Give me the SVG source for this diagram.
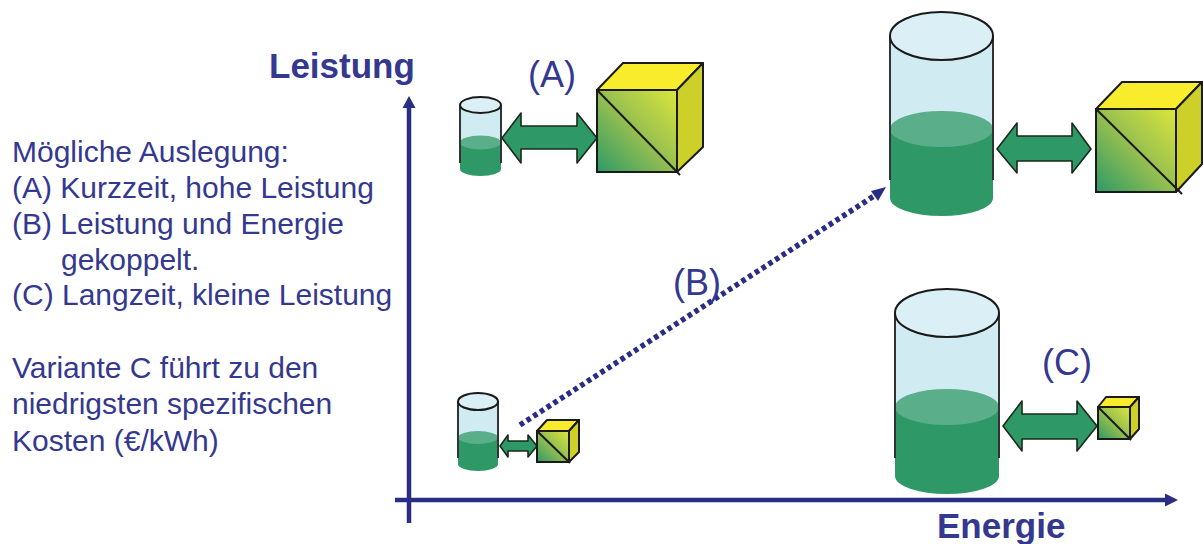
<svg xmlns="http://www.w3.org/2000/svg" width="1203" height="544" viewBox="0 0 1203 544">
<style>
text{font-family:"Liberation Sans",Arial,sans-serif;fill:#34388f}
.t{font-size:30px}
.l{font-size:36px}
.b{font-size:35px;font-weight:bold}
.ax{stroke:#2a2d84;stroke-width:4.500;fill:none}
.hd{fill:#2a2d84}
.g{fill:#d0ecf2}
.w{fill:#2e9966}
.wt{fill:#5aae8a}
.gl{stroke:#333;stroke-width:2;fill:none}
.top{fill:#dbf0f6;stroke:#1a1a1a;stroke-width:2}
.ar{fill:#2e9966;stroke:#1a2a1a;stroke-width:1.600;stroke-linejoin:round}
.cy{fill:#f9ec2d;stroke:#1a1a1a;stroke-width:2;stroke-linejoin:round}
.cs{fill:#ccd028;stroke:#1a1a1a;stroke-width:2;stroke-linejoin:round}
.cf{fill:url(#gr);stroke:#1a1a1a;stroke-width:2}
.cd{stroke:#1a1a1a;stroke-width:2;fill:none}
</style>
<defs>
<linearGradient id="gr" x1="0" y1="1" x2="1" y2="0">
<stop offset="0" stop-color="#2e9966"/><stop offset="0.5" stop-color="#96bf50"/><stop offset="1" stop-color="#dce63c"/>
</linearGradient>
</defs>
<g id="connectors">
<path class="ax" d="M409 523V106"/><polygon class="hd" points="409,96 402.500,108 415.500,108"/>
<path class="ax" d="M395 500H1166"/><polygon class="hd" points="1178,500 1165,493.500 1165,506.500"/>
<path d="M520 425L874 196" stroke="#2a2d84" stroke-width="5.500" stroke-dasharray="4.500 3.500" fill="none"/>
<polygon class="hd" points="886,187 871,191 878,201"/>
</g>
<g id="storage-a">
<path class="g" d="M460 105H501V163H460Z"/>
<path class="w" d="M460 142.500H501V169A20.500 7 0 0 1 460 169Z"/>
<ellipse class="wt" cx="480.500" cy="142.500" rx="20.500" ry="7"/>
<path class="gl" d="M460 105V163M501 105V163"/>
<ellipse class="top" cx="480.500" cy="105" rx="20.500" ry="8"/>
</g>
<g id="arrow-a"><polygon class="ar" points="502,138 521,113 521,126 577,126 577,113 597,138 577,163 577,149 521,149 521,163"/></g>
<g id="converter-a">
<polygon class="cy" points="597,90 623,63 703,63 677,90"/>
<polygon class="cs" points="677,90 703,63 703,147 677,172"/>
<rect class="cf" x="597" y="90" width="80" height="82"/>
<path class="cd" d="M597 90L680 175"/>
</g>
<g id="storage-b">
<path class="g" d="M890 36H993V180H890Z"/>
<path class="w" d="M890 129H993V198A51.500 18 0 0 1 890 198Z"/>
<ellipse class="wt" cx="941.500" cy="129" rx="51.500" ry="18"/>
<path class="gl" d="M890 36V180M993 36V180"/>
<ellipse class="top" cx="941.500" cy="36" rx="51.500" ry="24"/>
</g>
<g id="arrow-b"><polygon class="ar" points="997,149 1017,123 1017,136 1072,136 1072,123 1091,149 1072,173 1072,161 1017,161 1017,173"/></g>
<g id="converter-b">
<polygon class="cy" points="1096,109 1122,82 1202,82 1176,109"/>
<polygon class="cs" points="1176,109 1202,82 1202,164 1176,192"/>
<rect class="cf" x="1096" y="109" width="80" height="83"/>
<path class="cd" d="M1096 109L1182 194"/>
</g>
<g id="storage-c">
<path class="g" d="M895 313H999V458H895Z"/>
<path class="w" d="M895 407H999V476A52 18 0 0 1 895 476Z"/>
<ellipse class="wt" cx="947" cy="407" rx="52" ry="18"/>
<path class="gl" d="M895 313V458M999 313V458"/>
<ellipse class="top" cx="947" cy="313" rx="52" ry="24"/>
</g>
<g id="arrow-c"><polygon class="ar" points="1003,426 1022,401 1022,414 1077,414 1077,401 1097,426 1077,451 1077,439 1022,439 1022,451"/></g>
<g id="converter-c">
<polygon class="cy" points="1098,407 1106,397 1139,397 1130,407"/>
<polygon class="cs" points="1130,407 1139,397 1139,429 1130,439"/>
<rect class="cf" x="1098" y="407" width="32" height="32"/>
<path class="cd" d="M1098 407L1131 440"/>
</g>
<g id="storage-d">
<path class="g" d="M458 401H498V458H458Z"/>
<path class="w" d="M458 437.500H498V464A20 7 0 0 1 458 464Z"/>
<ellipse class="wt" cx="478" cy="437.500" rx="20" ry="6.500"/>
<path class="gl" d="M458 401V458M498 401V458"/>
<ellipse class="top" cx="478" cy="401.500" rx="20" ry="8.500"/>
</g>
<g id="arrow-d"><polygon class="ar" points="500,446 508,435 508,441 528,441 528,435 537,446 528,457 528,451 508,451 508,457"/></g>
<g id="converter-d">
<polygon class="cy" points="537,431 547,420 579,420 569,431"/>
<polygon class="cs" points="569,431 579,420 579,452 569,462"/>
<rect class="cf" x="537" y="431" width="32" height="31"/>
<path class="cd" d="M537 431L570 463"/>
</g>
<g id="labels">
<text class="b" x="269" y="78">Leistung</text>
<text class="b" x="937" y="538">Energie</text>
<text class="l" x="528" y="87">(A)</text>
<text class="l" x="673" y="295">(B)</text>
<text class="l" x="1042" y="375">(C)</text>
<text class="t" x="12" y="162">Mögliche Auslegung:</text>
<text class="t" x="12" y="198">(A) Kurzzeit, hohe Leistung</text>
<text class="t" x="12" y="234">(B) Leistung und Energie</text>
<text class="t" x="61" y="270">gekoppelt.</text>
<text class="t" x="12" y="305">(C) Langzeit, kleine Leistung</text>
<text class="t" x="12" y="378">Variante C führt zu den</text>
<text class="t" x="12" y="414">niedrigsten spezifischen</text>
<text class="t" x="12" y="451">Kosten (€/kWh)</text>
</g>
</svg>
